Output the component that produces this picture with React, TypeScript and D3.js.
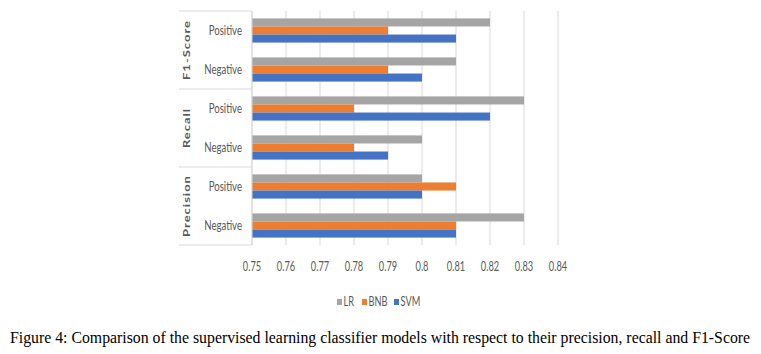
import React, { useRef, useEffect } from "react";
import * as d3 from "d3";

// metric groups, top to bottom as drawn
const groups = ["F1-Score", "Recall", "Precision"];
const classes = ["Positive", "Negative"];
const seriesNames = ["LR", "BNB", "SVM"];
const seriesColors = ["#A5A5A5", "#ED7D31", "#4472C4"];

// values per row: F1 Pos, F1 Neg, Recall Pos, Recall Neg, Precision Pos, Precision Neg
const lrValues = [0.82, 0.81, 0.83, 0.8, 0.8, 0.83];
const bnbValues = [0.79, 0.79, 0.78, 0.78, 0.81, 0.81];
const svmValues = [0.81, 0.8, 0.82, 0.79, 0.8, 0.81];

const xTicks = [0.75, 0.76, 0.77, 0.78, 0.79, 0.8, 0.81, 0.82, 0.83, 0.84];

const caption =
    "Figure 4: Comparison of the supervised learning classifier models with respect to their precision, recall and F1-Score";

const App: React.FC = () => {
    const svgRef = useRef<SVGSVGElement | null>(null);

    useEffect(() => {
        const width = 761;
        const height = 354;
        const svg = d3.select(svgRef.current).attr("width", width).attr("height", height);
        svg.selectAll("*").remove();

        const plotLeft = 252;
        const plotRight = 558;
        const plotTop = 11;
        const plotBottom = 245;
        const labelFont = "Lato, 'Open Sans', Arial, sans-serif";
        const textColor = "#595959";
        const squeeze = 0.74; // the source image is horizontally compressed

        const rows = groups.flatMap((g) => classes.map((c) => ({ group: g, cls: c, key: g + "|" + c })));
        const seriesValues = [lrValues, bnbValues, svmValues];

        const xScale = d3.scaleLinear().domain([0.75, 0.84]).range([plotLeft, plotRight]);
        const yScale = d3
            .scaleBand()
            .domain(rows.map((r) => r.key))
            .range([plotTop, plotBottom])
            .paddingInner(0.38)
            .paddingOuter(0.19);
        const inner = d3.scaleBand().domain(seriesNames).range([0, yScale.bandwidth()]);

        // gridlines
        svg.append("g")
            .selectAll("line")
            .data(xTicks)
            .enter()
            .append("line")
            .attr("x1", (d) => xScale(d))
            .attr("x2", (d) => xScale(d))
            .attr("y1", plotTop)
            .attr("y2", plotBottom)
            .attr("stroke", "#D9D9D9")
            .attr("stroke-width", 1);

        // bars
        rows.forEach((r, i) => {
            const g = svg.append("g").attr("transform", `translate(0, ${yScale(r.key)})`);
            seriesNames.forEach((s, j) => {
                const v = seriesValues[j][i];
                g.append("rect")
                    .attr("x", xScale(0.75))
                    .attr("y", inner(s)!)
                    .attr("width", xScale(v) - xScale(0.75))
                    .attr("height", inner.bandwidth())
                    .attr("fill", seriesColors[j]);
            });
        });

        // axis line
        svg.append("line")
            .attr("x1", plotLeft)
            .attr("x2", plotLeft)
            .attr("y1", plotTop)
            .attr("y2", plotBottom)
            .attr("stroke", "#D9D9D9");

        // group separators
        const sepLeft = 179;
        const groupBounds = groups.map((g) => {
            const keys = rows.filter((r) => r.group === g).map((r) => r.key);
            const step = yScale.step();
            const top = yScale(keys[0])! - step * 0.19;
            const bottom = yScale(keys[keys.length - 1])! + yScale.bandwidth() + step * 0.19;
            return { g, top, bottom };
        });
        const sepYs = [plotTop, ...groupBounds.map((b) => b.bottom)];
        svg.append("g")
            .selectAll("line")
            .data(sepYs)
            .enter()
            .append("line")
            .attr("x1", sepLeft)
            .attr("x2", plotLeft)
            .attr("y1", (d) => d)
            .attr("y2", (d) => d)
            .attr("stroke", "#D9D9D9");

        // category labels
        svg.append("g")
            .selectAll("text")
            .data(rows)
            .enter()
            .append("text")
            .attr("transform", (d) => `translate(242, ${yScale(d.key)! + yScale.bandwidth() / 2}) scale(${squeeze}, 1)`)
            .attr("dy", "0.35em")
            .attr("text-anchor", "end")
            .attr("font-family", labelFont)
            .attr("font-size", 13)
            .attr("fill", textColor)
            .text((d) => d.cls);

        // group labels (rotated)
        svg.append("g")
            .selectAll("text")
            .data(groupBounds)
            .enter()
            .append("text")
            .attr("transform", (d) => `translate(187, ${(d.top + d.bottom) / 2}) scale(${squeeze}, 1) rotate(-90)`)
            .attr("dy", "0.35em")
            .attr("text-anchor", "middle")
            .attr("font-family", labelFont)
            .attr("font-size", 13)
            .attr("font-weight", "bold")
            .attr("letter-spacing", 1)
            .attr("fill", textColor)
            .text((d) => d.g);

        // tick labels
        svg.append("g")
            .selectAll("text")
            .data(xTicks)
            .enter()
            .append("text")
            .attr("transform", (d) => `translate(${xScale(d)}, 267) scale(${squeeze}, 1)`)
            .attr("dy", "0.35em")
            .attr("text-anchor", "middle")
            .attr("font-family", labelFont)
            .attr("font-size", 12.5)
            .attr("fill", textColor)
            .text((d) => String(d));

        // legend
        const legendX = [337, 362, 394];
        const legend = svg.append("g");
        seriesNames.forEach((s, j) => {
            legend.append("rect")
                .attr("x", legendX[j])
                .attr("y", 299)
                .attr("width", 5)
                .attr("height", 6)
                .attr("fill", seriesColors[j]);
            legend.append("text")
                .attr("transform", `translate(${legendX[j] + 6.5}, 302) scale(${squeeze}, 1)`)
                .attr("dy", "0.35em")
                .attr("font-family", labelFont)
                .attr("font-size", 12.5)
                .attr("fill", textColor)
                .text(s);
        });

        // caption
        svg.append("text")
            .attr("x", 10)
            .attr("y", 343)
            .attr("font-family", "'Liberation Serif', 'Times New Roman', serif")
            .attr("font-size", 15.8)
            .attr("fill", "#000")
            .text(caption);
    }, []);

    return <svg ref={svgRef} style={{ position: "absolute", left: 0, top: 0 }} />;
};

export default App;
